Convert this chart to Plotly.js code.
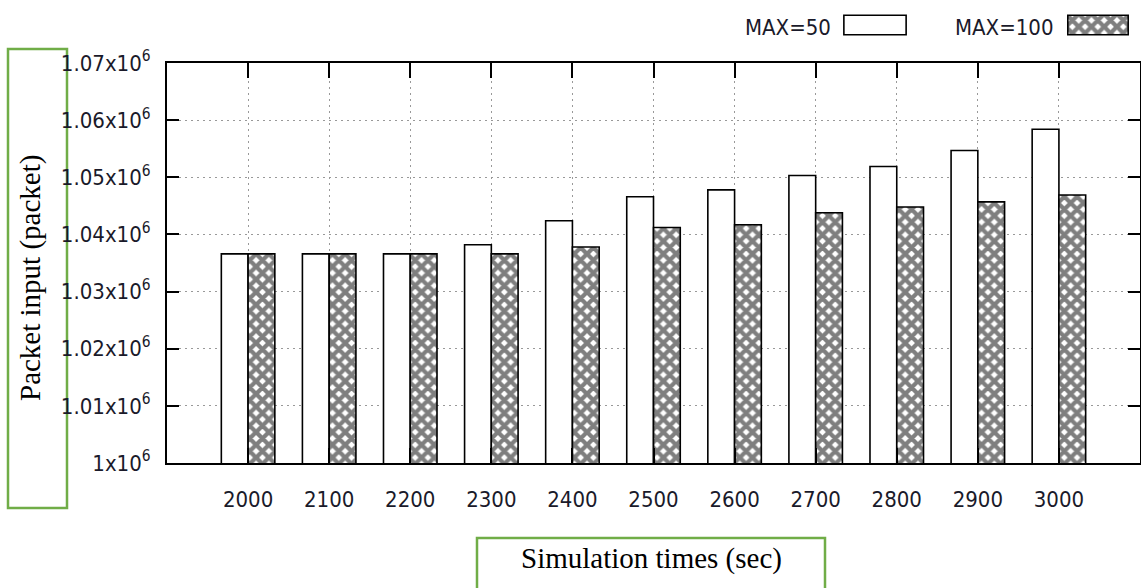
<!DOCTYPE html>
<html>
<head>
<meta charset="utf-8">
<script src="https://cdn.plot.ly/plotly-3.0.1.min.js"></script>
<style>html,body{margin:0;padding:0;background:#fff;}#chart{width:1141px;height:588px;}</style>
</head>
<body>
<div id="chart"></div>
<script>
// ---- data ----
const categories = ['2000','2100','2200','2300','2400','2500','2600','2700','2800','2900','3000'];
const max50  = [1036600, 1036600, 1036600, 1038200, 1042400, 1046600, 1047800, 1050300, 1051900, 1054700, 1058400];
const max100 = [1036600, 1036600, 1036600, 1036600, 1037800, 1041200, 1041700, 1043800, 1044800, 1045700, 1046900];
const seriesNames = ['MAX=50', 'MAX=100'];
const yTickVals = [1000000, 1010000, 1020000, 1030000, 1040000, 1050000, 1060000, 1070000];
const yTickText = ['1x10<sup>6</sup>','1.01x10<sup>6</sup>','1.02x10<sup>6</sup>','1.03x10<sup>6</sup>','1.04x10<sup>6</sup>','1.05x10<sup>6</sup>','1.06x10<sup>6</sup>','1.07x10<sup>6</sup>'];
const xTitle = 'Simulation times (sec)';
const yTitle = 'Packet input (packet)';

// ---- layout helpers (pixel -> paper) ----
const W = 1141, H = 588, ML = 167, MR = 1, MT = 0, MB = 125;
const PW = W - ML - MR, PH = H - MT - MB;
const px = x => (x - ML) / PW;
const py = y => (H - MB - y) / PH;

const tickFont = {family: 'DejaVu Sans Condensed, Liberation Sans Narrow, Arial Narrow, sans-serif', size: 22, color: '#1a1a2a'};
const titleFont = {family: 'Liberation Serif, Times New Roman, serif', size: 29, color: '#000'};
const hatch = {shape: 'x', size: 9, solidity: 0.72, fgcolor: '#000', bgcolor: '#fff', fillmode: 'overlay'};
const outline = {color: '#000', width: 1.6};

const traces = [
  {type: 'bar', name: seriesNames[0], x: categories, y: max50,
   marker: {color: '#fff', line: outline}, showlegend: false, hoverinfo: 'skip'},
  {type: 'bar', name: seriesNames[1], x: categories, y: max100,
   marker: {color: '#fff', pattern: hatch, line: outline}, showlegend: false, hoverinfo: 'skip'},
  // legend keys
  {type: 'bar', x: [0], y: [1], width: [1], xaxis: 'x2', yaxis: 'y2',
   marker: {color: '#fff', line: outline}, showlegend: false, hoverinfo: 'skip'},
  {type: 'bar', x: [0], y: [1], width: [1], xaxis: 'x3', yaxis: 'y3',
   marker: {color: '#fff', pattern: hatch, line: outline}, showlegend: false, hoverinfo: 'skip'}
];

const gridDash = '2px,4px';
const keyAxis = d => ({domain: d, range: [-0.53, 0.53], visible: false, fixedrange: true});
const keyYAxis = d => ({domain: d, range: [-0.06, 1.06], visible: false, fixedrange: true});

const layout = {
  width: W, height: H,
  margin: {l: ML, r: MR, t: MT, b: MB, pad: 0},
  paper_bgcolor: '#fff', plot_bgcolor: '#fff',
  barmode: 'group', bargap: 0.34, bargroupgap: 0,
  showlegend: false,
  xaxis: {
    type: 'category', range: [-1, 11], tickvals: categories,
    showgrid: true, gridcolor: '#999', griddash: gridDash, gridwidth: 1,
    showline: true, linecolor: '#000', linewidth: 2, mirror: 'ticks',
    ticks: 'inside', ticklen: 15, tickwidth: 2, tickcolor: '#000',
    tickfont: tickFont, ticklabelstandoff: 16, zeroline: false
  },
  yaxis: {
    domain: [0, py(63)], range: [1000000, 1070000],
    tickvals: yTickVals, ticktext: yTickText,
    showgrid: true, gridcolor: '#999', griddash: gridDash, gridwidth: 1,
    showline: true, linecolor: '#000', linewidth: 2, mirror: 'ticks',
    ticks: 'inside', ticklen: 12, tickwidth: 2, tickcolor: '#000',
    tickfont: tickFont, ticklabelstandoff: 10, zeroline: false
  },
  xaxis2: Object.assign(keyAxis([px(842), px(908)]), {anchor: 'y2'}),
  yaxis2: Object.assign(keyYAxis([py(36), py(14)]), {anchor: 'x2'}),
  xaxis3: Object.assign(keyAxis([px(1066), px(1130)]), {anchor: 'y3'}),
  yaxis3: Object.assign(keyYAxis([py(36), py(14)]), {anchor: 'x3'}),
  shapes: [
    {type: 'rect', xref: 'paper', yref: 'paper', x0: px(8), x1: px(67), y0: py(508), y1: py(49),
     line: {color: '#70AD47', width: 2.5}, fillcolor: 'rgba(0,0,0,0)', layer: 'below'},
    {type: 'rect', xref: 'paper', yref: 'paper', x0: px(477), x1: px(825), y0: py(592), y1: py(538),
     line: {color: '#70AD47', width: 2.5}, fillcolor: 'rgba(0,0,0,0)'}
  ],
  annotations: [
    {text: yTitle, xref: 'paper', yref: 'paper', x: px(30), y: py(278), xanchor: 'center', yanchor: 'middle',
     textangle: -90, showarrow: false, font: titleFont},
    {text: xTitle, xref: 'paper', yref: 'paper', x: px(651), y: py(558), xanchor: 'center', yanchor: 'middle',
     showarrow: false, font: titleFont},
    {text: seriesNames[0], xref: 'paper', yref: 'paper', x: px(833), y: py(27), xanchor: 'right', yanchor: 'middle',
     showarrow: false, font: tickFont},
    {text: seriesNames[1], xref: 'paper', yref: 'paper', x: px(1056), y: py(27), xanchor: 'right', yanchor: 'middle',
     showarrow: false, font: tickFont}
  ]
};

Plotly.newPlot('chart', traces, layout, {staticPlot: true, displayModeBar: false});
</script>
</body>
</html>
